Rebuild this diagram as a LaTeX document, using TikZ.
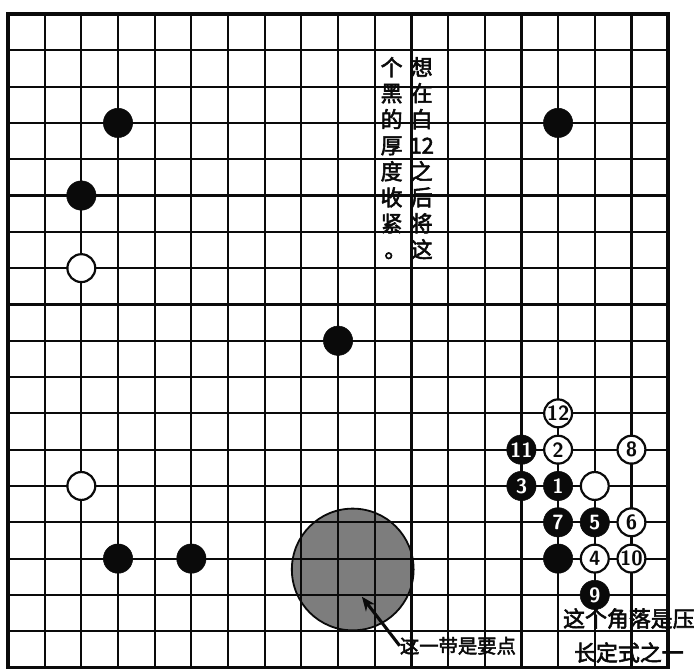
\documentclass[tikz,border=0pt]{standalone}
\usepackage{fontspec}
\newfontfamily\cjk[FakeBold=2.5]{Noto Sans CJK SC}
\usepackage{xcolor}
\definecolor{goblack}{RGB}{10,10,10}
\definecolor{goshade}{RGB}{125,125,125}
\usetikzlibrary{arrows.meta}

\begin{document}
\begin{tikzpicture}[x=1cm, y=0.99cm,
  bstone/.style={circle, fill=goblack, draw=goblack, minimum size=0.8cm, inner sep=0pt, text=white, font=\sffamily\bfseries\fontsize{16}{16}\selectfont},
  wstone/.style={circle, fill=white, draw=goblack, line width=1.7pt, minimum size=0.76cm, inner sep=0pt, text=goblack, font=\sffamily\bfseries\fontsize{16}{16}\selectfont},
  hand/.style={font=\cjk\fontsize{#1}{#1}\selectfont, text=goblack, inner sep=0pt}]
  \useasboundingbox (-0.218,0.385) rectangle (18.76,-18.08);
  \fill[white] (-0.218,0.385) rectangle (18.76,-18.08);

  % shaded area
  \draw[line width=1.4pt, draw=goblack, fill=goshade] (9.40,-15.30) circle [radius=1.66cm];

  % board
  \draw[line width=1.7pt, draw=goblack, step=1] (0,-18) grid (18,0);
  \draw[line width=3pt, draw=goblack] (0,0) rectangle (18,-18);

  % stones on the rest of the board
  \node[bstone] (btl) at (3,-3) {};
  \node[bstone] (btr) at (15,-3) {};
  \node[bstone] (bl) at (2,-5) {};
  \node[wstone] (wl) at (2,-7) {};
  \node[bstone] (bc) at (9,-9) {};
  \node[wstone] (wbl) at (2,-13) {};
  \node[bstone] (bbl) at (3,-15) {};
  \node[bstone] (bb) at (5,-15) {};

  % corner sequence
  \node[bstone] (bbr) at (15,-15) {};
  \node[wstone] (wbr) at (16,-13) {};
  \node[bstone] (m1) at (15,-13) {1};
  \node[wstone] (m2) at (15,-12) {2};
  \node[bstone] (m3) at (14,-13) {3};
  \node[wstone] (m4) at (16,-15) {4};
  \node[bstone] (m5) at (16,-14) {5};
  \node[wstone] (m6) at (17,-14) {6};
  \node[bstone] (m7) at (15,-14) {7};
  \node[wstone] (m8) at (17,-12) {8};
  \node[bstone] (m9) at (16,-16) {9};
  \node[wstone] (m10) at (17,-15) {10};
  \node[bstone] (m11) at (14,-12) {11};
  \node[wstone] (m12) at (15,-11) {12};

  % notes
  \node[hand=17, align=center, anchor=north, font=\cjk\fontsize{17}{20.2}\selectfont] (noteR) at (11.28,-1.18) {想\\在\\白\\12\\之\\后\\将\\这};
  \node[hand=17, align=center, anchor=north, font=\cjk\fontsize{17}{20.2}\selectfont] (noteL) at (10.46,-1.18) {个\\黑\\的\\厚\\度\\收\\紧\\\makebox[1em]{\hspace{0.35em}。}};

  \node[hand=15, anchor=west] (keypt) at (10.68,-17.40) {这一带是要点};
  \coordinate (keyhit) at (9.65,-16.05);
  \draw[line width=2.4pt, draw=goblack, -{Stealth[length=11pt, width=9pt]}] (keypt.west) -- (keyhit);

  \node[hand=16.5, align=left, anchor=west, font=\cjk\fontsize{17}{26.4}\selectfont] (corner) at (15.13,-17.12) {这个角落是压\\\hspace{0.5em}长定式之一};
\end{tikzpicture}
\end{document}
